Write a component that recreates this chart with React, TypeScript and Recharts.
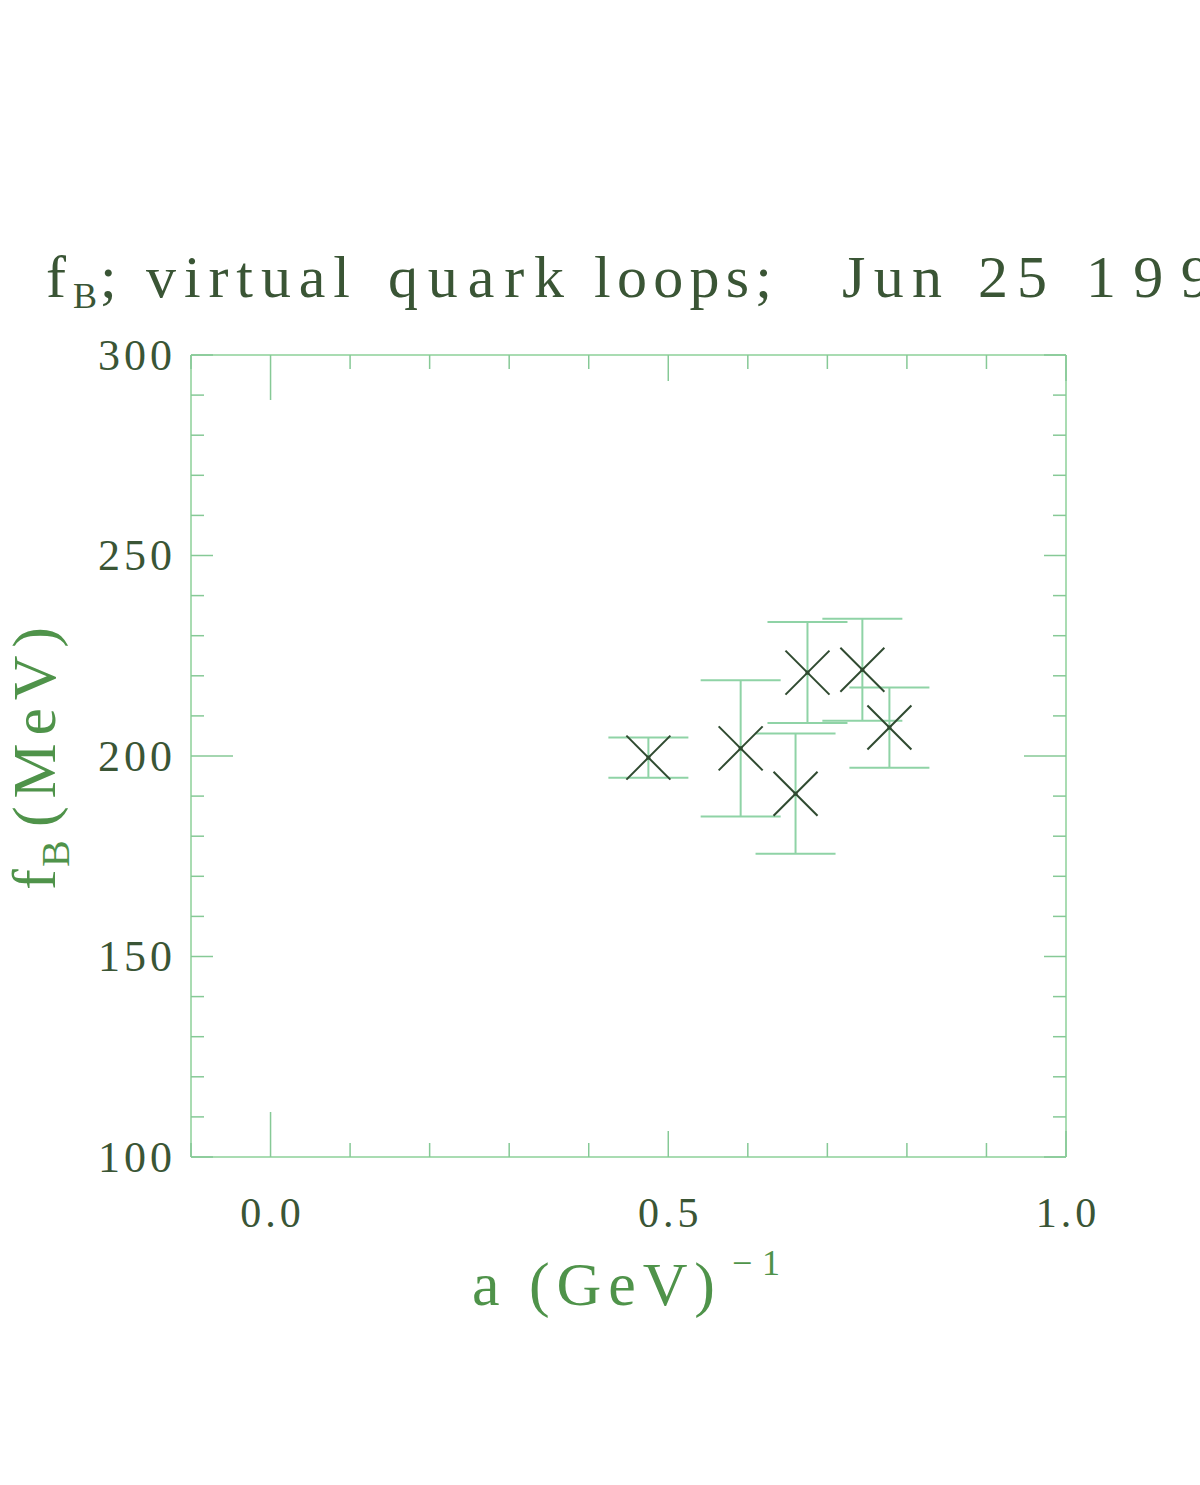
import { ScatterChart, Scatter, XAxis, YAxis, ErrorBar } from "recharts";

// lattice spacing a (GeV^-1), fB (MeV) and its error
const spacing = [0.475, 0.591, 0.66, 0.675, 0.744, 0.778];
const fB = [199.6, 201.9, 190.6, 220.8, 221.5, 207.1];
const fBErr = [5, 17, 15, 12.6, 12.7, 10];

const xTicks = [-0.1, 0, 0.1, 0.2, 0.3, 0.4, 0.5, 0.6, 0.7, 0.8, 0.9, 1.0];
const xTickLabels = [0, 0.5, 1.0];
const yTicks = [100, 110, 120, 130, 140, 150, 160, 170, 180, 190, 200, 210, 220, 230, 240, 250, 260, 270, 280, 290, 300];
const yTickLabels = [100, 150, 200, 250, 300];

const points = spacing.map((a, i) => ({ a, fB: fB[i], err: fBErr[i] }));

const MARGIN = { top: 354, right: 133, bottom: 327, left: 190 };
const PLOT_TOP = MARGIN.top + 1;

const FRAME = "#a9dcb2";
const TICK = "#86c996";
const LABEL = "#3a5535";
const AXIS_TITLE = "#4f934a";
const MARK = "#2f4a30";
const ERR = "#8fd3a6";
const FONT = "'Liberation Serif', 'DejaVu Serif', serif";

const isMajor = (v: number, list: number[]) => list.some((t) => Math.abs(t - v) < 1e-6);

function xTickLen(v: number) {
  if (Math.abs(v) < 1e-6) return 45;
  return isMajor(v, xTickLabels) ? 26 : 14;
}

function yTickLen(v: number) {
  if (v === 200) return 42;
  return isMajor(v, yTickLabels) ? 22 : 13;
}

// bottom axis tick: inward tick at the bottom, matching inward tick on the top frame, label below
function BottomTick({ x, y, payload }: any) {
  const v = payload.value;
  const len = xTickLen(v);
  return (
    <g>
      <line x1={x} x2={x} y1={y} y2={y - len} stroke={TICK} strokeWidth={1.5} />
      <line x1={x} x2={x} y1={PLOT_TOP} y2={PLOT_TOP + len} stroke={TICK} strokeWidth={1.5} />
      {isMajor(v, xTickLabels) && (
        <text x={x + 2} y={y + 56} textAnchor="middle" dominantBaseline="central" fontFamily={FONT} fontSize={42} letterSpacing={4} fill={LABEL}>
          {v.toFixed(1)}
        </text>
      )}
    </g>
  );
}

function LeftTick({ x, y, payload }: any) {
  const v = payload.value;
  return (
    <g>
      <line x1={x} x2={x + yTickLen(v)} y1={y} y2={y} stroke={TICK} strokeWidth={1.5} />
      {isMajor(v, yTickLabels) && (
        <text x={x - 15} y={y} textAnchor="end" dominantBaseline="central" fontFamily={FONT} fontSize={44} letterSpacing={4} fill={LABEL}>
          {v}
        </text>
      )}
    </g>
  );
}

function RightTick({ x, y, payload }: any) {
  return <line x1={x} x2={x - yTickLen(payload.value)} y1={y} y2={y} stroke={TICK} strokeWidth={1.5} />;
}

function Cross(props: any) {
  const { cx, cy } = props;
  const h = 22;
  return (
    <g stroke={MARK} strokeWidth={2}>
      <line x1={cx - h} y1={cy - h} x2={cx + h} y2={cy + h} />
      <line x1={cx - h} y1={cy + h} x2={cx + h} y2={cy - h} />
      <rect x={cx - 2} y={cy - 2} width={4} height={4} fill={MARK} stroke="none" />
    </g>
  );
}

export default function App() {
  return (
    <div style={{ position: "absolute", left: 0, top: 0, width: 1200, height: 1485, background: "#fff", overflow: "hidden" }}>
      <ScatterChart width={1200} height={1485} margin={MARGIN}>
        <XAxis
          dataKey="a"
          type="number"
          domain={[-0.1, 1.0]}
          allowDataOverflow
          ticks={xTicks}
          interval={0}
          height={1}
          tickSize={0}
          tickMargin={0}
          tickLine={false}
          tick={<BottomTick />}
          axisLine={{ stroke: FRAME, strokeWidth: 2 }}
        />
        <XAxis
          xAxisId="top"
          orientation="top"
          type="number"
          domain={[-0.1, 1.0]}
          allowDataOverflow
          height={1}
          tick={false}
          tickLine={false}
          axisLine={{ stroke: FRAME, strokeWidth: 2 }}
        />
        <YAxis
          dataKey="fB"
          type="number"
          domain={[100, 300]}
          allowDataOverflow
          ticks={yTicks}
          interval={0}
          width={1}
          tickSize={0}
          tickMargin={0}
          tickLine={false}
          tick={<LeftTick />}
          axisLine={{ stroke: FRAME, strokeWidth: 2 }}
        />
        <YAxis
          yAxisId="right"
          orientation="right"
          type="number"
          domain={[100, 300]}
          allowDataOverflow
          ticks={yTicks}
          interval={0}
          width={1}
          tickSize={0}
          tickMargin={0}
          tickLine={false}
          tick={<RightTick />}
          axisLine={{ stroke: FRAME, strokeWidth: 2 }}
        />
        <Scatter data={points} shape={<Cross />} isAnimationActive={false}>
          <ErrorBar dataKey="err" direction="y" width={40} stroke={ERR} strokeWidth={2} />
        </Scatter>
      </ScatterChart>
      <svg width={1200} height={1485} style={{ position: "absolute", left: 0, top: 0, pointerEvents: "none" }}>
        <g fontFamily={FONT} fill={LABEL}>
          <text x={46} y={297} fontSize={60}>f</text>
          <text x={73} y={308} fontSize={36} textLength={23} lengthAdjust="spacing">B</text>
          <text x={100} y={297} fontSize={60}>;</text>
          <text x={146} y={297} fontSize={60} textLength={204} lengthAdjust="spacing">virtual</text>
          <text x={388} y={297} fontSize={60} textLength={176} lengthAdjust="spacing">quark</text>
          <text x={594} y={297} fontSize={60} textLength={178} lengthAdjust="spacing">loops;</text>
          <text x={842} y={297} fontSize={60} textLength={100} lengthAdjust="spacing">Jun</text>
          <text x={978} y={297} fontSize={60} textLength={69} lengthAdjust="spacing">25</text>
          <text x={1086} y={297} fontSize={60} textLength={172} lengthAdjust="spacing">1997</text>
        </g>
        <g fontFamily={FONT} fill={AXIS_TITLE}>
          <text x={472} y={1305} fontSize={62} textLength={243} lengthAdjust="spacing">a (GeV)</text>
          <text x={732} y={1275} fontSize={36} textLength={48} lengthAdjust="spacing">−1</text>
          <g transform="translate(55, 755) rotate(-90)">
            <text x={-135} y={0} fontSize={62}>f</text>
            <text x={-112} y={14} fontSize={40}>B</text>
            <text x={-72} y={0} fontSize={62} textLength={200} lengthAdjust="spacing">(MeV)</text>
          </g>
        </g>
      </svg>
    </div>
  );
}
